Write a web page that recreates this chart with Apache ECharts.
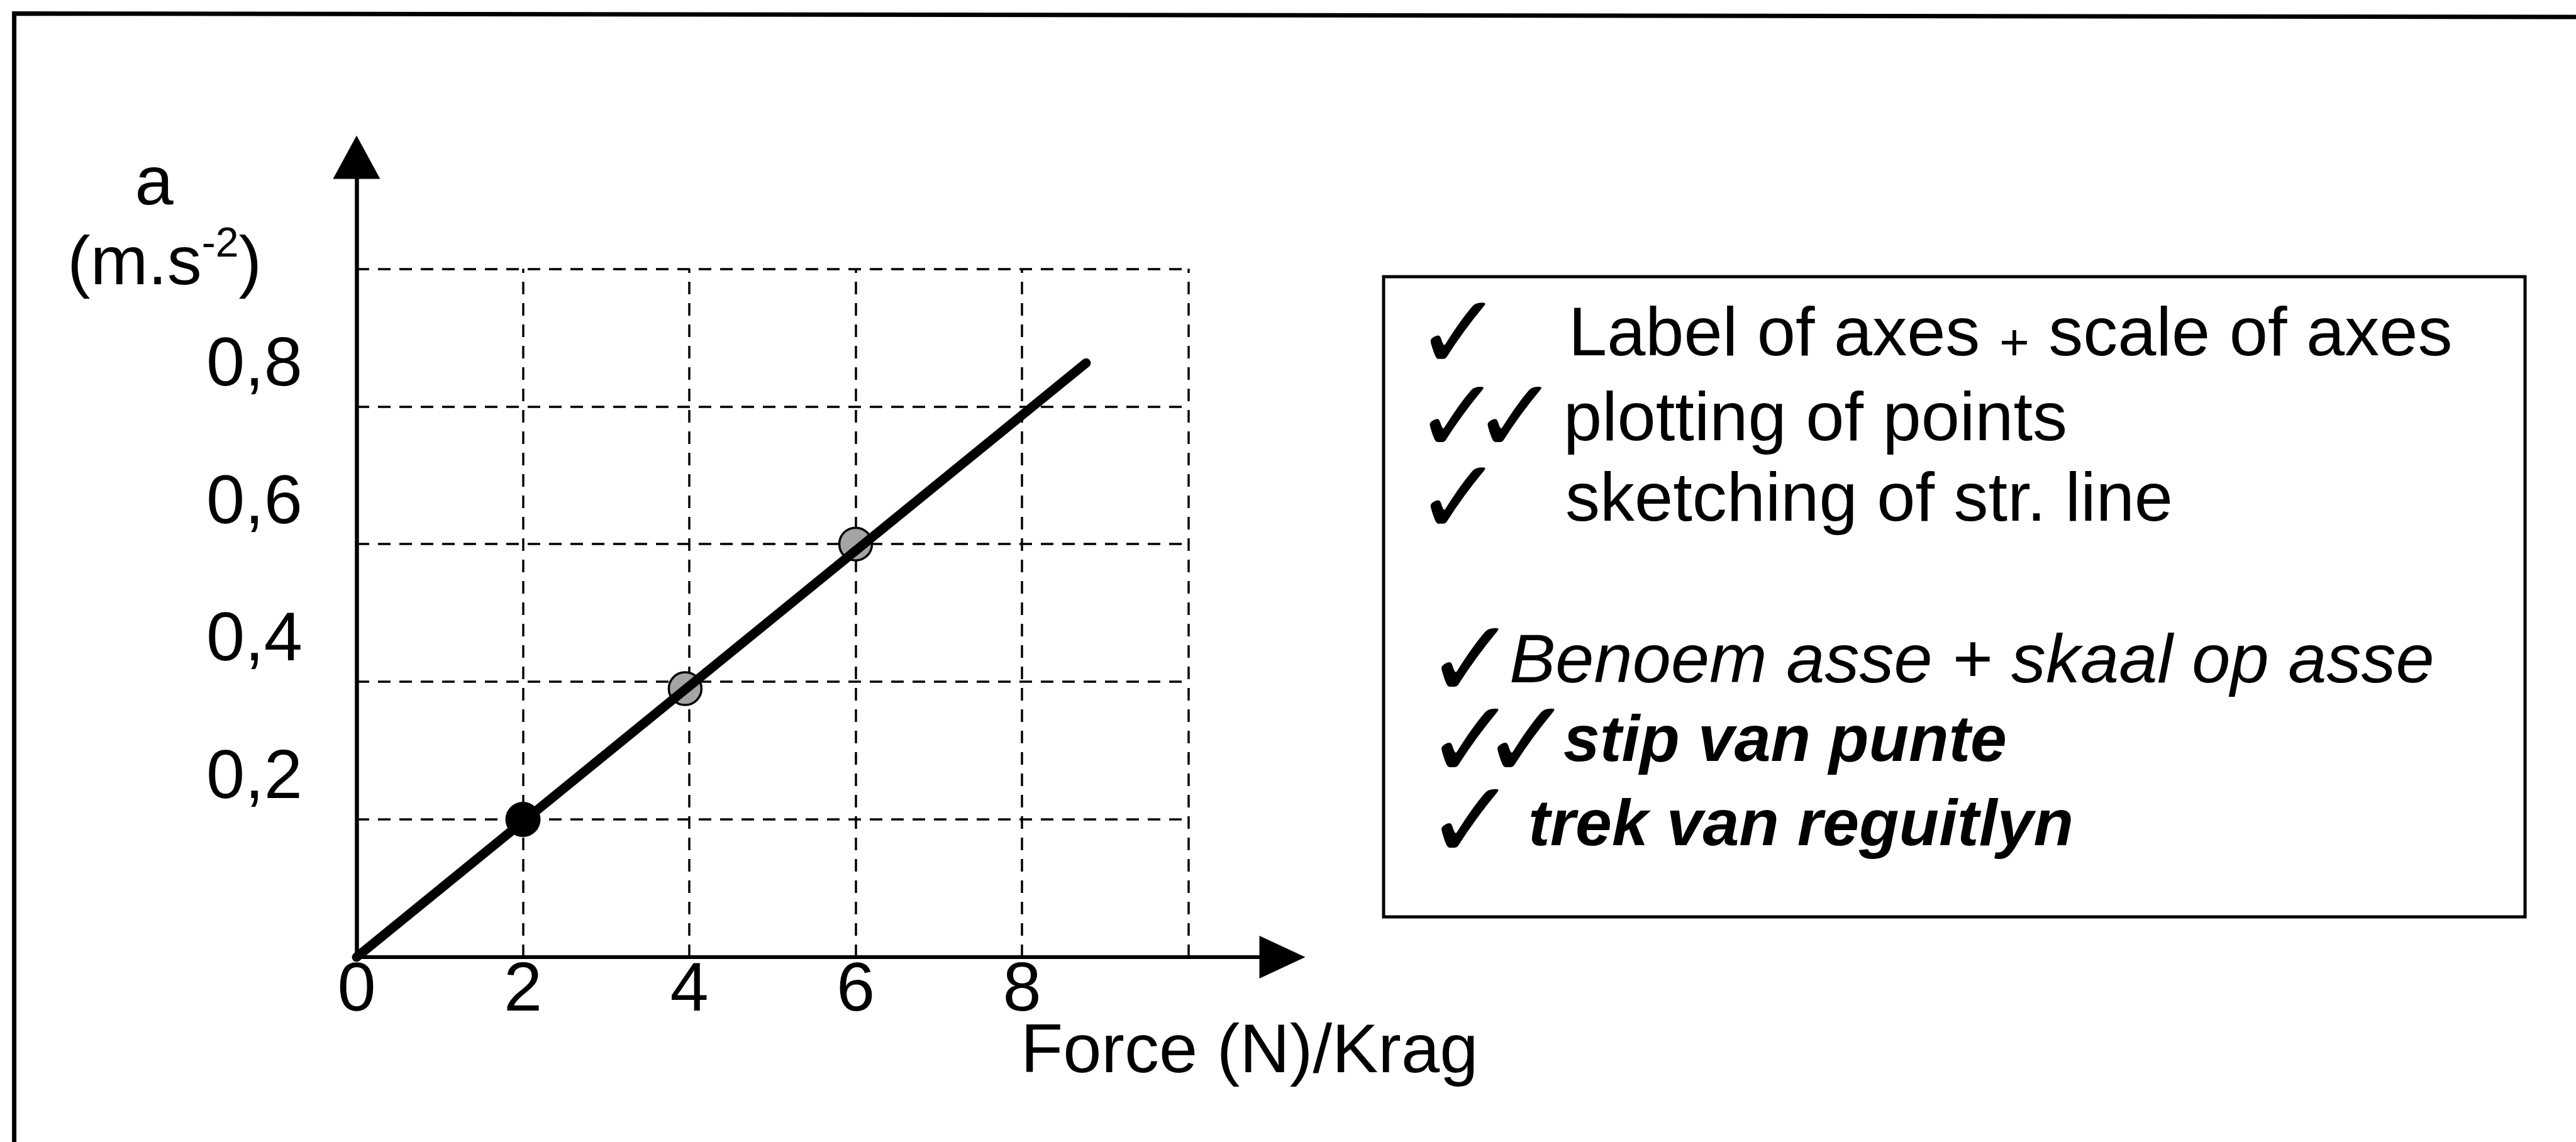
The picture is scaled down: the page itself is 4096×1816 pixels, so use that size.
<!DOCTYPE html>
<html><head><meta charset="utf-8">
<script src="https://cdn.jsdelivr.net/npm/echarts@6/dist/echarts.min.js"></script>
<style>html,body{margin:0;padding:0;background:#fff}#c{width:4096px;height:1816px}</style>
</head><body><div id="c"></div>
<script>
// ---- data ----
const xTickValues = [0, 2, 4, 6, 8];
const xTickLabels = ['0', '2', '4', '6', '8'];
const yTickValues = [0.2, 0.4, 0.6, 0.8];
const yTickLabels = ['0,2', '0,4', '0,6', '0,8'];
const gridForce = [2, 4, 6, 8, 10];
const gridAccel = [0.2, 0.4, 0.6, 0.8, 1.0];
const gridForceMax = 10;
const gridAccelMax = 1.0;
const pointForce = [2, 3.95, 6];
const pointAccel = [0.2, 0.39, 0.6];
const fitForce = [0, 8.77];
const fitAccel = [0, 0.863];
const xAxisName = 'Force (N)/Krag';
const yAxisName = 'a';
const yAxisUnit = ['(m.s', '-2', ')'];
const rubricChecks = ['\u2713', '\u2713\u2713', '\u2713', '\u2713', '\u2713\u2713', '\u2713'];
const rubricTexts = [['Label of axes ', '+', ' scale of axes'], ['plotting of points'], ['sketching of str. line'],
  ['Benoem asse + skaal op asse'], ['stip van punte'], ['trek van reguitlyn']];

// ---- layout ----
const FONT = '"Liberation Sans", Arial, sans-serif';
const CHECKFONT = '"DejaVu Sans", sans-serif';
const rowStyle = [
  {x: 2494, y: 535, size: 110, style: 'normal', weight: 'normal', cx: [2320], cy: 527, cs: 168},
  {x: 2486, y: 670, size: 110, style: 'normal', weight: 'normal', cx: [2318, 2410], cy: 660, cs: 165},
  {x: 2489, y: 798, size: 110, style: 'normal', weight: 'normal', cx: [2320], cy: 789, cs: 168},
  {x: 2400, y: 1054, size: 110, style: 'italic', weight: 'normal', cx: [2339], cy: 1047, cs: 175},
  {x: 2486, y: 1181, size: 104, style: 'italic', weight: 'bold', cx: [2339, 2428], cy: 1175, cs: 175},
  {x: 2430, y: 1315, size: 104, style: 'italic', weight: 'bold', cx: [2339], cy: 1303, cs: 175}
];

const graphics = [];
// outer frame (left + top edges)
graphics.push({type: 'polyline', shape: {points: [[22.6, 1816], [22.6, 21.5], [4096, 27]]},
  style: {stroke: '#000', lineWidth: 7, fill: null}, z: 10});
// rubric box
graphics.push({type: 'rect', shape: {x: 2200, y: 440, width: 1815, height: 1018},
  style: {stroke: '#000', lineWidth: 5, fill: null}, z: 10});
rubricTexts.forEach((parts, i) => {
  const r = rowStyle[i];
  const txt = parts.map((p, k) => (parts.length === 3 && k === 1) ? '{p|' + p + '}' : '{n|' + p + '}').join('');
  graphics.push({type: 'text', x: r.x, y: r.y, z: 11, style: {
    text: txt, align: 'left', verticalAlign: 'middle', textAlign: 'left', textVerticalAlign: 'middle',
    rich: {
      n: {fill: '#000', color: '#000', fontSize: r.size, fontFamily: FONT, fontStyle: r.style, fontWeight: r.weight, lineHeight: r.size},
      p: {fill: '#000', color: '#000', fontSize: 82, fontFamily: FONT, lineHeight: 82, verticalAlign: 'bottom'}
    }}});
  const checks = rubricChecks[i].split('');
  checks.forEach((c, k) => {
    graphics.push({type: 'text', x: r.cx[k], y: r.cy + 0.095 * r.cs, z: 11, style: {
      text: c, fill: '#000', fontSize: r.cs, fontFamily: CHECKFONT, fontWeight: 'normal',
      align: 'center', verticalAlign: 'middle', textAlign: 'center', textVerticalAlign: 'middle'}});
  });
});
// axis names
graphics.push({type: 'text', x: 245, y: 295, z: 11, style: {
  text: yAxisName, fill: '#000', fontSize: 110, fontFamily: FONT,
  align: 'center', verticalAlign: 'middle', textAlign: 'center', textVerticalAlign: 'middle'}});
graphics.push({type: 'text', x: 107, y: 422, z: 11, style: {
  text: '{m|' + yAxisUnit[0] + '}{s|' + yAxisUnit[1] + '}{m|' + yAxisUnit[2] + '}',
  align: 'left', verticalAlign: 'middle', textAlign: 'left', textVerticalAlign: 'middle',
  rich: {
    m: {fontSize: 110, fontFamily: FONT, fill: '#000', color: '#000', lineHeight: 130},
    s: {fontSize: 66, fontFamily: FONT, fill: '#000', color: '#000', lineHeight: 70, verticalAlign: 'top'}
  }}});
graphics.push({type: 'text', x: 1623, y: 1675, z: 11, style: {
  text: xAxisName, fill: '#000', fontSize: 110, fontFamily: FONT,
  align: 'left', verticalAlign: 'middle', textAlign: 'left', textVerticalAlign: 'middle'}});

function findLabel(values, labels, v) {
  for (let i = 0; i < values.length; i++) {
    if (Math.abs(values[i] - v) < 1e-6) return labels[i];
  }
  return '';
}

const gridLinesData = gridForce.map(f => ({coords: [[f, 0], [f, gridAccelMax]]}))
  .concat(gridAccel.map(a => ({coords: [[0, a], [gridForceMax, a]]})));

const option = {
  animation: false,
  backgroundColor: '#fff',
  grid: {left: 567, top: 250, width: 1472, height: 1272, containLabel: false, outerBoundsMode: 'none'},
  xAxis: {
    type: 'value', min: 0, max: 11.13, interval: 2,
    axisLine: {show: true, onZero: true, symbol: ['none', 'triangle'], symbolSize: [68, 73],
      lineStyle: {color: '#000', width: 6}},
    axisTick: {show: false}, splitLine: {show: false},
    axisLabel: {show: true, margin: 0, color: '#000', fontSize: 110, fontFamily: FONT,
      showMinLabel: true, showMaxLabel: true,
      formatter: v => findLabel(xTickValues, xTickLabels, v)}
  },
  yAxis: {
    type: 'value', min: 0, max: 1.162, interval: 0.2,
    axisLine: {show: true, onZero: true, symbol: ['none', 'triangle'], symbolSize: [75, 69],
      lineStyle: {color: '#000', width: 6.5}},
    axisTick: {show: false}, splitLine: {show: false},
    axisLabel: {show: true, margin: 86, color: '#000', fontSize: 110, fontFamily: FONT,
      verticalAlign: 'bottom', lineHeight: 128,
      formatter: v => findLabel(yTickValues, yTickLabels, v)}
  },
  series: [
    {type: 'lines', coordinateSystem: 'cartesian2d', silent: true, z: 1,
      lineStyle: {color: '#000', width: 3.5, type: [20, 14], opacity: 1, curveness: 0},
      data: gridLinesData},
    {type: 'scatter', z: 3, silent: true,
      symbolSize: (val, p) => p.dataIndex === 0 ? 56 : 52,
      data: pointForce.map((f, i) => ({value: [f, pointAccel[i]],
        itemStyle: i === 0 ? {color: '#000', borderColor: '#000', borderWidth: 0, opacity: 1}
                           : {color: '#a4a4a4', borderColor: '#000', borderWidth: 3.5, opacity: 1}}))},
    {type: 'line', z: 4, silent: true, symbol: 'none',
      lineStyle: {color: '#000', width: 15, cap: 'round'},
      data: fitForce.map((f, i) => [f, fitAccel[i]])}
  ],
  graphic: graphics
};
const chart = echarts.init(document.getElementById('c'), null, {renderer: 'canvas'});
chart.setOption(option);
</script>
</body></html>
